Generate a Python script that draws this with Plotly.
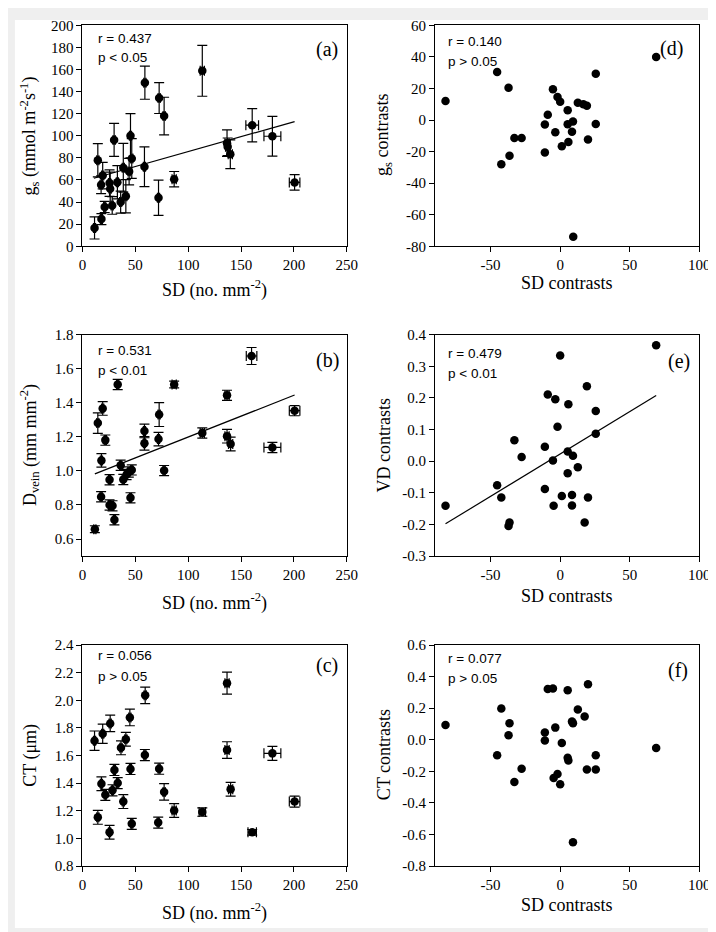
import plotly.graph_objects as go

W, H = 716, 932

# ---------------- data ----------------
# (a) gs vs SD
sd_a = [11.4, 17.9, 14.5, 19.1, 17.6, 21.0, 25.6, 26.2, 28.1, 29.9, 33.0, 36.1, 38.6, 41.0, 44.1,
        45.4, 46.6, 58.6, 59.0, 71.9, 72.5, 77.2, 86.7, 113.3, 136.7, 137.3, 139.8, 160.5, 179.6, 200.6]
gs = [16.6, 24.6, 77.9, 64.0, 55.7, 35.6, 57.2, 52.1, 37.0, 96.3, 58.0, 40.0, 71.1, 45.3, 67.6,
      100.1, 79.4, 72.0, 148.1, 43.9, 134.2, 117.9, 60.7, 158.8, 93.3, 90.0, 83.3, 109.6, 99.6, 57.8]
gs_err = [10, 5, 15, 12, 8, 5, 12, 15, 8, 15, 15, 10, 22, 15, 12,
          20, 18, 18, 15, 16, 14, 17, 7, 23, 12, 8, 13, 15, 18, 7]
sd_err_a = [1, 1, 1, 1, 1, 1, 1, 1, 1, 1, 1, 1, 1, 1, 1,
            1, 1, 1, 1, 1, 1, 1, 2, 2, 2, 2, 2, 6, 8, 5]
fit_a_x = [10.8, 200.6]
fit_a_y = [61.6, 112.9]

# (b) Dvein vs SD
sd_b = [11.7, 14.5, 19.1, 17.9, 17.6, 21.6, 25.6, 25.6, 28.4, 30.2, 33.3, 36.1, 38.6, 41.7, 43.8,
        46.6, 45.4, 58.6, 58.6, 71.9, 72.5, 77.2, 86.7, 113.3, 136.7, 136.7, 140.1, 159.9, 179.6, 200.6]
dvein = [0.658, 1.281, 1.367, 1.062, 0.848, 1.181, 0.948, 0.800, 0.795, 0.713, 1.508, 1.033, 0.950, 0.979, 0.994,
         1.006, 0.842, 1.235, 1.162, 1.187, 1.331, 1.002, 1.508, 1.223, 1.444, 1.204, 1.158, 1.675, 1.138, 1.354]
dvein_err = [0.02, 0.06, 0.04, 0.04, 0.03, 0.03, 0.03, 0.03, 0.03, 0.03, 0.03, 0.03, 0.03, 0.03, 0.03,
             0.03, 0.03, 0.04, 0.04, 0.04, 0.07, 0.03, 0.02, 0.03, 0.03, 0.04, 0.04, 0.05, 0.03, 0.03]
sd_err_b = [1, 1, 1, 1, 1, 1, 1, 1, 1, 1, 1, 1, 1, 1, 1,
            1, 1, 1, 1, 1, 1, 1, 2, 2, 2, 2, 2, 5, 8, 5]
fit_b_x = [11.7, 200.6]
fit_b_y = [0.983, 1.446]

# (c) CT vs SD
sd_c = [11.4, 19.1, 26.2, 44.8, 59.3, 41.0, 36.4, 59.0, 45.4, 30.2, 17.9, 33.3, 21.6, 28.4, 38.6,
        72.5, 77.2, 86.7, 71.6, 46.6, 14.5, 25.6, 113.3, 136.7, 136.7, 140.1, 160.5, 179.6, 200.6]
ct = [1.708, 1.758, 1.833, 1.876, 2.036, 1.718, 1.656, 1.604, 1.503, 1.496, 1.396, 1.401, 1.316, 1.349, 1.267,
      1.505, 1.337, 1.203, 1.115, 1.106, 1.153, 1.045, 1.191, 2.124, 1.640, 1.356, 1.045, 1.616, 1.267]
ct_err = [0.07, 0.07, 0.06, 0.06, 0.06, 0.05, 0.05, 0.04, 0.04, 0.04, 0.05, 0.04, 0.04, 0.04, 0.05,
          0.04, 0.06, 0.05, 0.04, 0.04, 0.05, 0.05, 0.03, 0.08, 0.06, 0.05, 0.02, 0.05, 0.04]
sd_err_c = [1, 1, 1, 1, 1, 1, 1, 1, 1, 1, 1, 1, 1, 1, 1,
            1, 1, 2, 1, 1, 1, 1, 3, 2, 2, 2, 4, 8, 5]

# (d) gs contrasts vs SD contrasts
sdc_d = [-82.4, -45.3, -37.1, -32.9, -27.7, -36.4, -42.3, -11.0, -8.9, -5.2, -1.9, 0.0, -3.5, 1.2,
         5.4, 5.4, 5.9, 9.2, 8.5, 12.7, 16.7, 19.2, 20.0, 25.6, 25.6, -11.0, 9.4, 69.0]
gsc = [12.1, 30.4, 20.4, -11.4, -11.4, -22.7, -28.1, -2.9, 3.3, 19.5, 14.6, 11.6, -7.7, -16.6,
       6.2, -2.7, -13.9, -1.0, -7.5, 11.0, 10.0, 9.1, -12.3, 29.3, -2.5, -20.6, -74.0, 39.9]

# (e) VD contrasts vs SD contrasts
sdc_e = [-82.4, -45.3, -42.3, -37.1, -36.4, -32.9, -27.7, -11.0, -11.0, -8.9, -3.5, -5.2, -4.7, -1.9, 0.0,
         1.2, 5.4, 5.9, 5.4, 9.2, 8.5, 8.5, 12.7, 17.6, 19.2, 20.0, 25.6, 25.6, 69.0]
vdc = [-0.141, -0.076, -0.115, -0.205, -0.194, 0.066, 0.013, 0.046, -0.088, 0.211, 0.196, 0.002, -0.141, 0.109, 0.334,
       -0.110, 0.031, 0.180, -0.038, 0.017, -0.107, -0.140, -0.019, -0.194, 0.237, -0.115, 0.159, 0.087, 0.367]
fit_e_x = [-82.4, 69.0]
fit_e_y = [-0.198, 0.208]

# (f) CT contrasts vs SD contrasts
sdc_f = [-82.4, -45.3, -42.3, -37.1, -36.4, -32.9, -27.7, -11.0, -11.0, -8.9, -5.2, -3.5, -4.7, -1.9, 0.0,
         1.2, 5.4, 5.4, 5.9, 8.5, 9.2, 12.7, 9.2, 17.6, 20.0, 19.2, 25.6, 25.6, 69.0]
ctc = [0.094, -0.098, 0.198, 0.029, 0.104, -0.267, -0.183, 0.046, -0.004, 0.321, 0.325, 0.077, -0.242, -0.217, -0.281,
       -0.021, 0.313, -0.113, -0.131, 0.115, 0.104, 0.192, -0.648, 0.148, 0.352, -0.188, -0.188, -0.098, -0.052]

# tick labels
sd_ticks = [0, 50, 100, 150, 200, 250]
gs_ticks = [0, 20, 40, 60, 80, 100, 120, 140, 160, 180, 200]
dvein_ticks = [0.6, 0.8, 1.0, 1.2, 1.4, 1.6, 1.8]
dvein_ticktext = ["0.6", "0.8", "1.0", "1.2", "1.4", "1.6", "1.8"]
ct_ticks = [0.8, 1.0, 1.2, 1.4, 1.6, 1.8, 2.0, 2.2, 2.4]
ct_ticktext = ["0.8", "1.0", "1.2", "1.4", "1.6", "1.8", "2.0", "2.2", "2.4"]
sdc_ticks = [-50, 0, 50, 100]
sdc_ticktext = ["-50", "0", "50", "100"]
gsc_ticks = [-80, -60, -40, -20, 0, 20, 40, 60]
gsc_ticktext = ["-80", "-60", "-40", "-20", "0", "20", "40", "60"]
vdc_ticks = [-0.3, -0.2, -0.1, 0.0, 0.1, 0.2, 0.3, 0.4]
vdc_ticktext = ["-0.3", "-0.2", "-0.1", "0.0", "0.1", "0.2", "0.3", "0.4"]
ctc_ticks = [-0.8, -0.6, -0.4, -0.2, 0.0, 0.2, 0.4, 0.6]
ctc_ticktext = ["-0.8", "-0.6", "-0.4", "-0.2", "0.0", "0.2", "0.4", "0.6"]

# ---------------- layout helpers ----------------
SERIF = "Liberation Serif, Times New Roman, serif"
SANS = "Liberation Sans, Arial, sans-serif"


def px(x):
    return x / W


def py(y):
    return 1 - y / H


cols = {"L": (72, 342), "R": (432, 702)}
rows = {1: (9.5, 234.3), 2: (324.3, 549.5), 3: (640, 865)}

fig = go.Figure()

err_style = dict(type="data", visible=True, color="black", thickness=1.2, width=5)


def add_err_scatter(x, y, ex, ey, ax):
    fig.add_trace(go.Scatter(
        x=x, y=y, mode="markers", xaxis="x" + ax, yaxis="y" + ax,
        marker=dict(color="black", size=8.5),
        error_y=dict(array=ey, **err_style),
        error_x=dict(array=ex, **err_style),
        showlegend=False, hoverinfo="skip"))


def add_scatter(x, y, ax):
    fig.add_trace(go.Scatter(
        x=x, y=y, mode="markers", xaxis="x" + ax, yaxis="y" + ax,
        marker=dict(color="black", size=8.5),
        showlegend=False, hoverinfo="skip"))


def add_line(x, y, ax):
    fig.add_trace(go.Scatter(
        x=x, y=y, mode="lines", xaxis="x" + ax, yaxis="y" + ax,
        line=dict(color="black", width=1.2),
        showlegend=False, hoverinfo="skip"))


add_line(fit_a_x, fit_a_y, "")
add_err_scatter(sd_a, gs, sd_err_a, gs_err, "")
add_line(fit_b_x, fit_b_y, "2")
add_err_scatter(sd_b, dvein, sd_err_b, dvein_err, "2")
add_err_scatter(sd_c, ct, sd_err_c, ct_err, "3")
add_scatter(sdc_d, gsc, "4")
add_line(fit_e_x, fit_e_y, "5")
add_scatter(sdc_e, vdc, "5")
add_scatter(sdc_f, ctc, "6")

axis_common = dict(showline=True, linecolor="black", linewidth=1, mirror=True,
                   ticks="outside", ticklen=5, tickwidth=1, tickcolor="black",
                   showgrid=False, zeroline=False,
                   tickfont=dict(family=SERIF, size=15, color="black"))

panels = [
    # key, col, row, xrange, xticks, xtext, yrange, yticks, ytext
    ("", "L", 1, [0, 250], sd_ticks, None, [0, 200], gs_ticks, None),
    ("2", "L", 2, [0, 250], sd_ticks, None, [0.5, 1.8], dvein_ticks, dvein_ticktext),
    ("3", "L", 3, [0, 250], sd_ticks, None, [0.8, 2.4], ct_ticks, ct_ticktext),
    ("4", "R", 1, [-90, 100], sdc_ticks, sdc_ticktext, [-80, 60], gsc_ticks, gsc_ticktext),
    ("5", "R", 2, [-90, 100], sdc_ticks, sdc_ticktext, [-0.3, 0.4], vdc_ticks, vdc_ticktext),
    ("6", "R", 3, [-90, 100], sdc_ticks, sdc_ticktext, [-0.8, 0.6], ctc_ticks, ctc_ticktext),
]

layout_axes = {}
for key, c, r, xr, xt, xtt, yr, yt, ytt in panels:
    x0, x1 = cols[c]
    y0, y1 = rows[r]
    xa = dict(axis_common, domain=[px(x0), px(x1)], range=xr, anchor="y" + key,
              tickmode="array", tickvals=xt)
    if xtt:
        xa["ticktext"] = xtt
    ya = dict(axis_common, domain=[py(y1), py(y0)], range=yr, anchor="x" + key,
              tickmode="array", tickvals=yt)
    if ytt:
        ya["ticktext"] = ytt
    layout_axes["xaxis" + key] = xa
    layout_axes["yaxis" + key] = ya

fig.update_layout(**layout_axes)

annots = []


def text(x, y, s, size, family, xanchor="center", angle=0):
    annots.append(dict(x=px(x), y=py(y), xref="paper", yref="paper", text=s, showarrow=False,
                       xanchor=xanchor, yanchor="middle", textangle=angle,
                       font=dict(family=family, size=size, color="black")))


# statistics
stats = [
    (86, 22.7, "r = 0.437", 42.7, "p < 0.05"),
    (86, 340, "r = 0.531", 361, "p < 0.01"),
    (86, 651, "r = 0.056", 671.7, "p > 0.05"),
    (443, 26, "r = 0.140", 46, "p > 0.05"),
    (443, 343.7, "r = 0.479", 364, "p < 0.01"),
    (443, 653.3, "r = 0.077", 674.3, "p > 0.05"),
]
for x, y1, s1, y2, s2 in stats:
    text(x, y1, s1, 13.5, SANS, "left")
    text(x, y2, s2, 13.5, SANS, "left")

# panel letters
for x, y, s in [(322, 34, "(a)"), (322, 350.7, "(b)"), (322, 660.7, "(c)"),
                (674, 33, "(d)"), (681, 351.7, "(e)"), (680.7, 666, "(f)")]:
    text(x, y, s, 20, SERIF)

# axis titles
xt_left = "SD (no. mm<sup>-2</sup>)"
for y in (278, 596, 912):
    text(207, y, xt_left, 18, SERIF)
for y in (272, 590, 905):
    text(567, y, "SD contrasts", 18, SERIF)

text(18, 122, "g<sub>s</sub> (mmol m<sup>-2</sup>s<sup>-1</sup>)", 18, SERIF, angle=-90)
text(18, 437, "D<sub>vein</sub> (mm mm<sup>-2</sup>)", 18, SERIF, angle=-90)
text(18, 752, "CT (μm)", 18, SERIF, angle=-90)
text(380, 121, "g<sub>s</sub> contrasts", 18, SERIF, angle=-90)
text(380, 437, "VD contrasts", 18, SERIF, angle=-90)
text(380, 752, "CT contrasts", 18, SERIF, angle=-90)

fig.update_layout(
    width=W, height=H, autosize=False,
    margin=dict(l=0, r=0, t=0, b=0),
    paper_bgcolor="#efefef", plot_bgcolor="white",
    annotations=annots,
    shapes=[dict(type="rect", xref="paper", yref="paper", x0=px(3), x1=px(712), y0=py(928), y1=py(4),
                 fillcolor="white", line=dict(width=0), layer="below")],
)

fig.write_html("out.html")
